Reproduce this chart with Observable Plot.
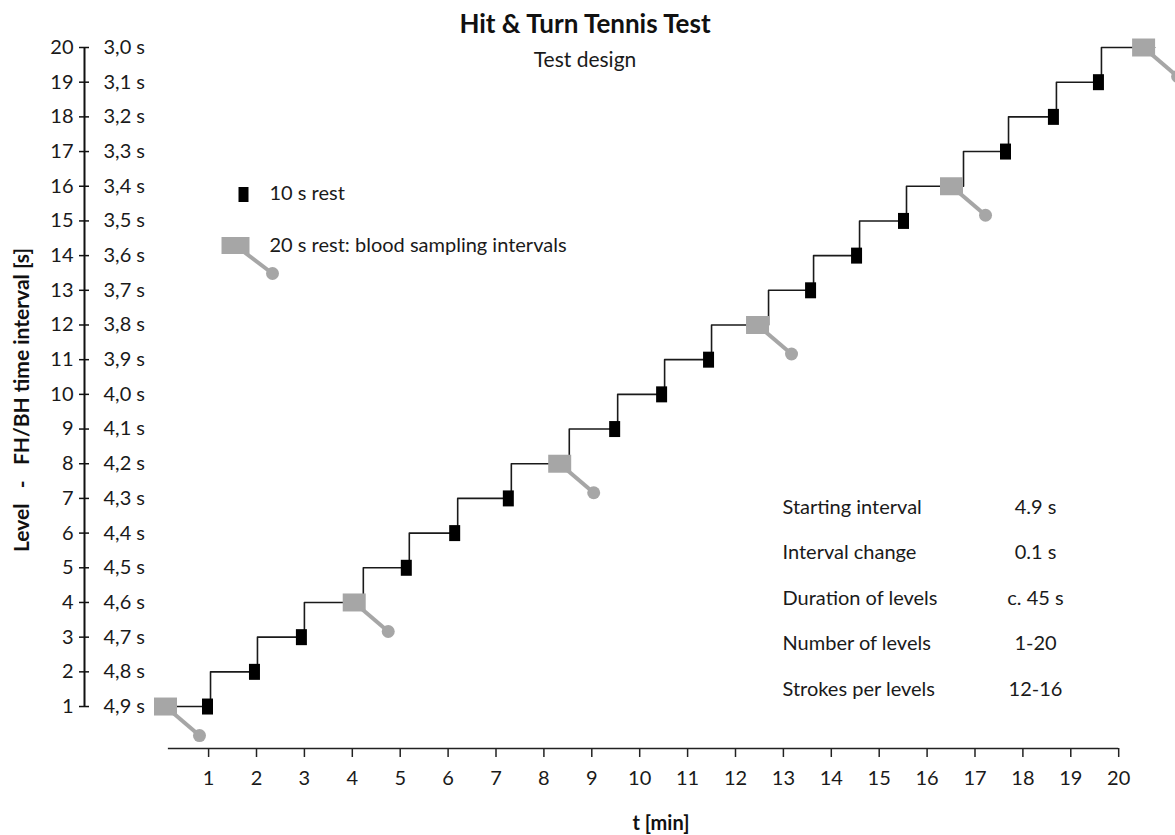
<!DOCTYPE html>
<html>
<head>
<meta charset="utf-8">
<script src="https://cdn.jsdelivr.net/npm/d3@7"></script>
<script src="https://cdn.jsdelivr.net/npm/@observablehq/plot@0.6"></script>
<style>
  html, body { margin: 0; padding: 0; background: #fff; }
  #chart { width: 1175px; height: 835px; }
</style>
</head>
<body>
<div id="chart"></div>
<script>
// ---- data ----
const levels = d3.range(1, 21);                       // level 1 … 20
const intervalLabels = ["4,9 s","4,8 s","4,7 s","4,6 s","4,5 s","4,4 s","4,3 s","4,2 s","4,1 s","4,0 s",
                        "3,9 s","3,8 s","3,7 s","3,6 s","3,5 s","3,4 s","3,3 s","3,2 s","3,1 s","3,0 s"];
const testStart = 0.10;                               // min, start of level 1
const levelEnd = [1.04, 2.02, 3.00, 4.23, 5.19, 6.20, 7.32, 8.53, 9.54, 10.52,
                  11.50, 12.69, 13.63, 14.59, 15.57, 16.76, 17.70, 18.70, 19.64, 20.75]; // min
const restType = ["10","10","10","20","10","10","10","20","10","10",
                  "10","20","10","10","10","20","10","10","10","20"];
const bloodSampleT = [0.10, 4.04, 8.33, 12.46, 16.51, 20.52]; // min (grey markers)
const bloodSampleLevel = [1, 4, 8, 12, 16, 20];
const xTicks = d3.range(1, 21);
const tableLabels = ["Starting interval", "Interval change", "Duration of levels", "Number of levels", "Strokes per levels"];
const tableValues = ["4.9 s", "0.1 s", "c. 45 s", "1-20", "12-16"];

// ---- derived tables ----
const steps = [{t: testStart, level: 1}];
levelEnd.forEach((t, i) => steps.push({t, level: Math.min(i + 2, 20)}));
const shortRests = levels.map((l, i) => ({t: levelEnd[i], level: l, type: restType[i]})).filter(d => d.type === "10");
const samples = bloodSampleT.map((t, i) => ({t, level: bloodSampleLevel[i]}));
const table = tableLabels.map((label, i) => ({label, value: tableValues[i], row: i}));

// ---- styling helpers ----
const grey = "#a6a6a6";
const ink = "#1a1a1a";
const rectSymbol = (w, h) => ({draw(ctx) { ctx.rect(-w / 2, -h / 2, w, h); }});
const stickSymbol = (dx, dy, width) => ({draw(ctx) {
  const L = Math.hypot(dx, dy), px = -dy / L * width / 2, py = dx / L * width / 2;
  ctx.moveTo(-px, -py); ctx.lineTo(dx - px, dy - py); ctx.lineTo(dx + px, dy + py); ctx.lineTo(px, py); ctx.closePath();
}});

const xMin = -1.591, xMax = 21.186, yMin = -0.21, xAxisStart = 0.16;

const tableMarks = table.flatMap(d => [
  Plot.text([d.label], {frameAnchor: "top-left", dx: 698, dy: 460 + d.row * 45.5, textAnchor: "start", lineAnchor: "middle", fontSize: 20, fill: ink}),
  Plot.text([d.value], {frameAnchor: "top-left", dx: 951, dy: 460 + d.row * 45.5, textAnchor: "middle", lineAnchor: "middle", fontSize: 20, fill: ink})
]);

const chart = Plot.plot({
  width: 1175,
  height: 835,
  marginLeft: 84,
  marginRight: 0,
  marginTop: 47,
  marginBottom: 87,
  style: {fontFamily: "Lato, 'Open Sans', sans-serif", fontSize: "20px", color: ink, background: "#fff"},
  x: {type: "linear", domain: [xMin, xMax]},
  y: {type: "linear", domain: [yMin, 20]},
  marks: [
    // y axis
    Plot.ruleX([xMin], {y1: 1, y2: 20, stroke: "#111", strokeWidth: 2}),
    Plot.axisY(levels, {anchor: "left", tickSize: 10, dx: 5, tickFormat: () => "", label: null, stroke: "#111", strokeWidth: 1.5}),
    Plot.text(levels, {y: d => d, text: d => String(d), frameAnchor: "left", dx: -11, textAnchor: "end", lineAnchor: "middle", fontSize: 20, fill: ink}),
    Plot.text(levels, {y: d => d, text: (d, i) => intervalLabels[i], frameAnchor: "left", dx: 19, textAnchor: "start", lineAnchor: "middle", fontSize: 20, fill: ink}),
    // x axis
    Plot.ruleY([yMin], {x1: xAxisStart, x2: 20, stroke: "#222", strokeWidth: 1.5}),
    Plot.axisX(xTicks, {anchor: "bottom", tickSize: 9, tickPadding: 13, fontSize: 20, label: null, stroke: "#222", strokeWidth: 1.5}),
    // step line
    Plot.line(steps, {x: "t", y: "level", curve: "step-after", stroke: "#1a1a1a", strokeWidth: 1.6}),
    // 10 s rests
    Plot.dot(shortRests, {x: "t", y: "level", dx: -3, symbol: rectSymbol(11, 16), fill: "#000"}),
    // 20 s rests with blood sampling
    Plot.dot(samples, {x: "t", y: "level", symbol: stickSymbol(34, 29, 4), fill: grey}),
    Plot.dot(samples, {x: "t", y: "level", symbol: rectSymbol(23, 18), fill: grey}),
    Plot.dot(samples, {x: "t", y: "level", dx: 34, dy: 29, r: 6.5, fill: grey}),
    // legend
    Plot.dot([0], {frameAnchor: "top-left", dx: 159, dy: 147, symbol: rectSymbol(10, 15), fill: "#000"}),
    Plot.text(["10 s rest"], {frameAnchor: "top-left", dx: 185, dy: 146, textAnchor: "start", lineAnchor: "middle", fontSize: 20, fill: ink}),
    Plot.dot([0], {frameAnchor: "top-left", dx: 151, dy: 198, symbol: stickSymbol(37, 28, 4), fill: grey}),
    Plot.dot([0], {frameAnchor: "top-left", dx: 151, dy: 198, symbol: rectSymbol(28, 17), fill: grey}),
    Plot.dot([0], {frameAnchor: "top-left", dx: 188, dy: 226, r: 6.5, fill: grey}),
    Plot.text(["20 s rest: blood sampling intervals"], {frameAnchor: "top-left", dx: 185, dy: 198, textAnchor: "start", lineAnchor: "middle", fontSize: 20, fill: ink}),
    // parameter table
    ...tableMarks,
    // titles
    Plot.text(["Hit & Turn Tennis Test"], {frameAnchor: "top", dx: -45, dy: -23, lineAnchor: "middle", fontSize: 26, fontWeight: "bold", fill: "#111"}),
    Plot.text(["Test design"], {frameAnchor: "top", dx: -45, dy: 13, lineAnchor: "middle", fontSize: 21, fill: ink}),
    Plot.text(["Level   -   FH/BH time interval [s]"], {frameAnchor: "left", dx: -62, dy: 2, rotate: -90, textAnchor: "middle", lineAnchor: "middle", fontSize: 21, fontWeight: "bold", fill: "#111"}),
    Plot.text(["t [min]"], {frameAnchor: "bottom", dx: 31, dy: 75, lineAnchor: "middle", fontSize: 20, fontWeight: "bold", fill: "#111"})
  ]
});
document.getElementById("chart").append(chart);
</script>
</body>
</html>
